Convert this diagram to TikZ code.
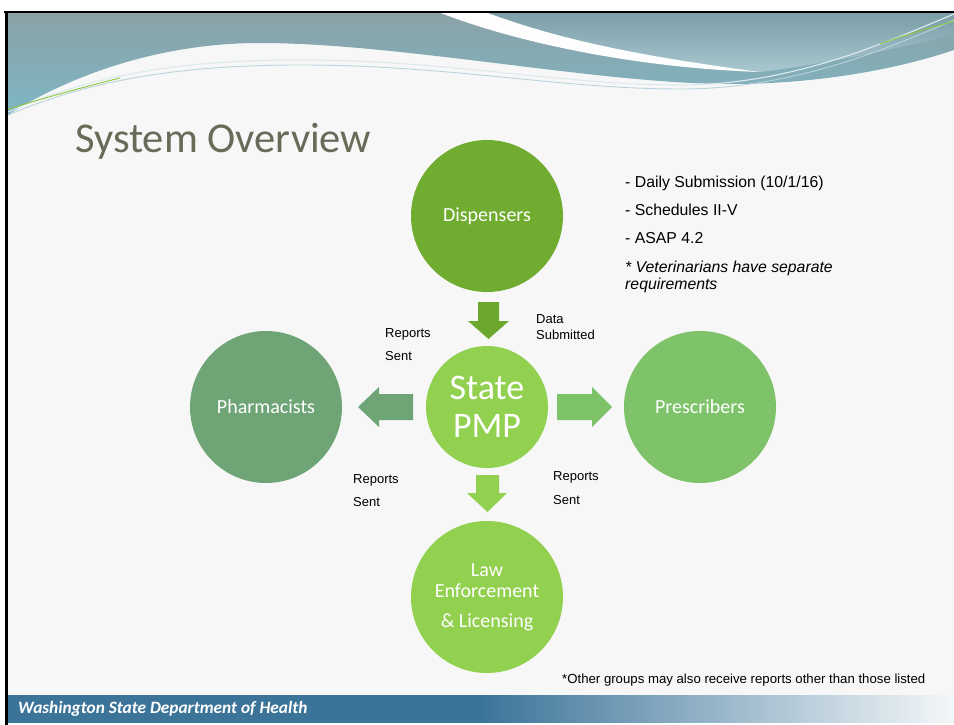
\documentclass[tikz,border=0pt]{standalone}
\usepackage{fontspec}
\setmainfont{Carlito}
\newfontfamily\arialf{Liberation Sans}
\definecolor{slidebg}{HTML}{F7F7F7}
\definecolor{hdrtop}{HTML}{8BA2A6}
\definecolor{hdrbot}{HTML}{7DB6C5}
\definecolor{lighttop}{HTML}{7A9DA6}
\definecolor{lightbot}{HTML}{A9C8D0}
\definecolor{titlec}{HTML}{676B58}
\definecolor{dispC}{HTML}{6FAC2F}
\definecolor{pharmC}{HTML}{6FA576}
\definecolor{pmpC}{HTML}{92D050}
\definecolor{prescC}{HTML}{7EC36A}
\definecolor{footC}{HTML}{3C7499}
\definecolor{footR}{HTML}{F4F7F9}
\definecolor{lineA}{HTML}{DCE9EE}
\definecolor{lineB}{HTML}{B9D3DC}
\definecolor{lineG}{HTML}{8CC63F}
\begin{document}
\begin{tikzpicture}[x=1pt,y=-1pt,
  bubble/.style={circle,minimum size=152pt,inner sep=0pt,text=white,align=center,
    font=\fontsize{20}{21}\selectfont},
  lbl/.style={anchor=base west,inner sep=0pt,font=\arialf\fontsize{13}{15}\selectfont},
  note/.style={anchor=base west,inner sep=0pt,font=\arialf\fontsize{15.8}{18}\selectfont},
  notei/.style={note,font=\arialf\itshape\fontsize{15.8}{18}\selectfont}]
\useasboundingbox (0,0) rectangle (954,725);
\fill[white] (0,0) rectangle (954,725);
\fill[slidebg] (6,12) rectangle (954,722);

% header band
\shade[top color=hdrtop,bottom color=hdrbot]
  (6,12) -- (954,12) -- (954,50)
  .. controls (910,65) and (830,84) .. (730,84)
  .. controls (600,84) and (400,43) .. (260,43)
  .. controls (160,43) and (70,75) .. (6,116) -- cycle;
% lighter panel on the right
\shade[top color=lighttop,bottom color=lightbot]
  (485,12) .. controls (560,40) and (640,56) .. (760,72)
  .. controls (840,62) and (910,45) .. (954,35) -- (954,12) -- cycle;
% white swoosh
\fill[white!96!lineA]
  (438,12) -- (485,12) .. controls (560,40) and (640,56) .. (760,72)
  .. controls (640,68) and (520,44) .. (438,12) -- cycle;
% fine ribbon lines
\draw[lineA,line width=1.1pt]
  (6,113) .. controls (100,70) and (200,60) .. (300,60)
  .. controls (450,60) and (560,85) .. (680,85)
  .. controls (790,85) and (880,45) .. (954,14);
\draw[lineB,line width=0.9pt]
  (6,116) .. controls (100,75) and (200,65) .. (300,65)
  .. controls (450,65) and (560,89) .. (680,89)
  .. controls (790,89) and (880,52) .. (954,20);
\draw[lineG,line width=0.9pt] (6,110) .. controls (40,99) and (80,88) .. (120,78);
\draw[lineG,line width=0.9pt] (880,44) .. controls (905,35) and (930,28) .. (954,21);

% frame
\draw[black,line width=2.5pt] (4,12) -- (954,12);
\draw[black,line width=3pt] (6.5,11) -- (6.5,725);

% title
\node[anchor=base west,inner sep=0pt,text=titlec,font=\fontsize{42.5}{50}\selectfont]
  (title) at (75,152) {System Overview};

% circles
\node[bubble,fill=dispC] (disp) at (487,216) {Dispensers};
\node[bubble,fill=pharmC] (pharm) at (266,407) {Pharmacists};
\node[bubble,fill=prescC] (presc) at (700,407) {Prescribers};
\node[bubble,fill=pmpC] (law) at (487,597) {Law\\Enforcement\\[9pt]\& Licensing};
\node[circle,minimum size=122pt,inner sep=0pt,fill=pmpC,text=white,align=center,
  font=\fontsize{36}{38}\selectfont] (pmp) at (487,407) {State\\PMP};

% block arrows
\fill[dispC!97!black] (478,302) -- (499,302) -- (499,321) -- (509,321) -- (488.5,339)
  -- (468,321) -- (478,321) -- cycle;
\fill[pharmC] (413,394) -- (379,394) -- (379,387) -- (358,407) -- (379,427)
  -- (379,420) -- (413,420) -- cycle;
\fill[prescC] (557,394) -- (592,394) -- (592,387) -- (612,407) -- (592,427)
  -- (592,420) -- (557,420) -- cycle;
\fill[pmpC] (476,475) -- (499,475) -- (499,493) -- (507,493) -- (487.5,512)
  -- (467,493) -- (476,493) -- cycle;

% arrow labels
\node[lbl] (r1a) at (385,337) {Reports};
\node[lbl] (r1b) at (385,360) {Sent};
\node[lbl] (d1a) at (536,323) {Data};
\node[lbl] (d1b) at (536,339) {Submitted};
\node[lbl] (r2a) at (353,483) {Reports};
\node[lbl] (r2b) at (353,506) {Sent};
\node[lbl] (r3a) at (553,480) {Reports};
\node[lbl] (r3b) at (553,504) {Sent};

% notes
\node[note] (n1) at (625,187) {- Daily Submission (10/1/16)};
\node[note] (n2) at (625,215) {- Schedules II-V};
\node[note] (n3) at (625,243) {- ASAP 4.2};
\node[notei] (n4) at (625,272) {* Veterinarians have separate};
\node[notei] (n5) at (625,289.5) {requirements};
\node[anchor=base west,inner sep=0pt,font=\arialf\fontsize{13.2}{15}\selectfont]
  (foot) at (562,683) {*Other groups may also receive reports other than those listed};

% footer bar: solid on the left half, fading out to the right
\shade[left color=footC,right color=footR,middle color=footC] (8,695) rectangle (954,722);
\node[anchor=base west,inner sep=0pt,text=white,
  font=\bfseries\itshape\fontsize{17.3}{20}\selectfont] (org) at (18,713)
  {Washington State Department of Health};
\end{tikzpicture}
\end{document}
